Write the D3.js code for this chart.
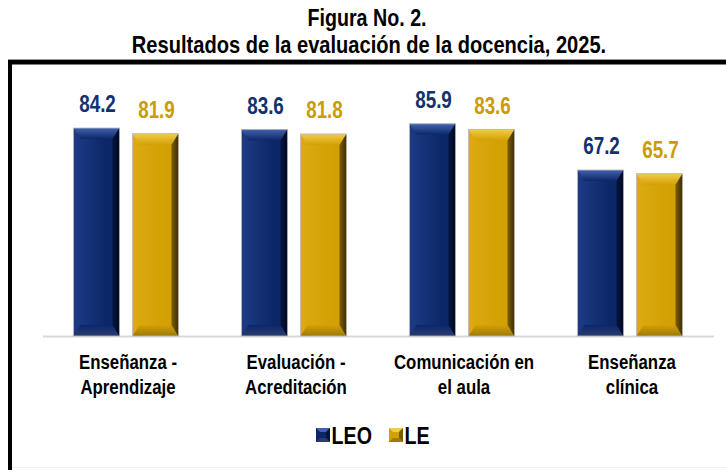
<!DOCTYPE html>
<html>
<head>
<meta charset="utf-8">
<script src="https://cdn.jsdelivr.net/npm/d3@7"></script>
<style>
  html, body { margin: 0; padding: 0; background: #fff; }
  svg { display: block; }
  text { font-family: "Liberation Sans", Arial, sans-serif; font-weight: bold; }
</style>
</head>
<body>
<svg id="chart" width="726" height="470"></svg>
<script>
const categories = [["Enseñanza -", "Aprendizaje"], ["Evaluación -", "Acreditación"], ["Comunicación en", "el aula"], ["Enseñanza", "clínica"]];
const seriesNames = ["LEO", "LE"];
const leoValues = [84.2, 83.6, 85.9, 67.2];
const leValues = [81.9, 81.8, 83.6, 65.7];
const titleLines = ["Figura No. 2.", "Resultados de la evaluación de la docencia, 2025."];

const W = 726, H = 470;
const NARROW = 0.82;
const svg = d3.select("#chart");
const defs = svg.append("defs");

const palette = {
  LEO: { base: "#0c2768", light: "#1d3c86", dark: "#020a22", label: "#13306f", top: "#4262ae", bottom: "#2a3d70" },
  LE:  { base: "#d3a004", light: "#dcab10", dark: "#3d2e00", label: "#c99c06", top: "#f2cb4a", bottom: "#9e7a08" }
};

seriesNames.forEach(s => {
  const p = palette[s];
  const g = defs.append("linearGradient").attr("id", "grad-" + s).attr("x1", 0).attr("x2", 1).attr("y1", 0).attr("y2", 0);
  g.append("stop").attr("offset", "0%").attr("stop-color", p.light);
  g.append("stop").attr("offset", "70%").attr("stop-color", p.base);
  g.append("stop").attr("offset", "84%").attr("stop-color", p.base);
  g.append("stop").attr("offset", "100%").attr("stop-color", p.dark);
  const t = defs.append("linearGradient").attr("id", "top-" + s).attr("x1", 0).attr("x2", 0).attr("y1", 0).attr("y2", 1);
  t.append("stop").attr("offset", "0%").attr("stop-color", p.top);
  t.append("stop").attr("offset", "100%").attr("stop-color", p.base);
  const b = defs.append("linearGradient").attr("id", "bot-" + s).attr("x1", 0).attr("x2", 0).attr("y1", 0).attr("y2", 1);
  b.append("stop").attr("offset", "0%").attr("stop-color", p.base);
  b.append("stop").attr("offset", "100%").attr("stop-color", p.bottom);
});

function narrowText(parent, x, y, size, fill, anchor, str) {
  return parent.append("text")
    .attr("transform", `translate(${x},${y}) scale(${NARROW},1)`)
    .attr("text-anchor", anchor).attr("font-size", size).attr("fill", fill).text(str);
}

// Frame
svg.append("rect").attr("x", 8).attr("y", 59).attr("width", W - 8).attr("height", 1).attr("fill", "#9a9a9a");
svg.append("rect").attr("x", 8).attr("y", 60).attr("width", W - 8).attr("height", 4.5).attr("fill", "#000");
svg.append("rect").attr("x", 8).attr("y", 60).attr("width", 4).attr("height", H - 60).attr("fill", "#000");
svg.append("rect").attr("x", 12).attr("y", 467).attr("width", W - 12).attr("height", 1).attr("fill", "#f0f0f0");

// Titles
narrowText(svg, 367, 26, 24, "#000", "middle", titleLines[0]);
narrowText(svg, 369, 53, 24.5, "#000", "middle", titleLines[1]);

// Scales
const x0 = d3.scaleBand().domain(d3.range(categories.length)).range([42, 714]).paddingInner(0).paddingOuter(0);
const x1 = d3.scaleBand().domain(seriesNames).range([0, x0.bandwidth()]).paddingInner(0.22).paddingOuter(0.534);
const y = d3.scaleLinear().domain([0, 100]).range([336, 89]);

// Axis line
svg.append("line").attr("x1", 43).attr("x2", 714).attr("y1", 336.5).attr("y2", 336.5)
  .attr("stroke", "#d9d9d9").attr("stroke-width", 2);

const data = [];
categories.forEach((c, i) => {
  data.push({ i, s: "LEO", v: leoValues[i] });
  data.push({ i, s: "LE", v: leValues[i] });
});

const bars = svg.append("g").selectAll("g.bar").data(data).join("g").attr("class", "bar");
bars.each(function(d) {
  const g = d3.select(this);
  const bx = x0(d.i) + x1(d.s), bw = x1.bandwidth();
  const by = y(d.v), bh = y(0) - y(d.v);
  const bt = 11, bs = 7;
  g.append("rect").attr("x", bx).attr("y", by).attr("width", bw).attr("height", bh)
    .attr("fill", `url(#grad-${d.s})`);
  g.append("path").attr("d", `M${bx},${by}L${bx + bw},${by}L${bx + bw - bs},${by + bt}L${bx + bs},${by + bt}Z`)
    .attr("fill", `url(#top-${d.s})`);
  g.append("path").attr("d", `M${bx},${by + bh}L${bx + bw},${by + bh}L${bx + bw - bs},${by + bh - bt}L${bx + bs},${by + bh - bt}Z`)
    .attr("fill", `url(#bot-${d.s})`);
  g.append("path").attr("d", `M${bx + bw},${by}L${bx + bw},${by + bh}L${bx + bw - bs},${by + bh - bt}L${bx + bw - bs},${by + bt}Z`)
    .attr("fill", palette[d.s].dark).attr("opacity", 0.55);
  g.append("rect").attr("x", bx).attr("y", by).attr("width", bw).attr("height", bh)
    .attr("fill", "none").attr("stroke", "#b8b8c0").attr("stroke-width", 0.8);
  narrowText(g, bx + bw / 2 + 1, by - 16, 23, palette[d.s].label, "middle", d.v.toFixed(1));
});

// Category labels
const cg = svg.append("g");
categories.forEach((lines, i) => {
  lines.forEach((ln, j) => {
    narrowText(cg, x0(i) + x0.bandwidth() / 2 + 2, 369 + j * 25, 20.5, "#000", "middle", ln);
  });
});

// Legend
const legendX = [316, 389];
const lg = svg.append("g").selectAll("g").data(seriesNames).join("g")
  .attr("transform", (d, i) => `translate(${legendX[i]},428)`);
lg.each(function(s) {
  const g = d3.select(this);
  const sz = 14, b = 4;
  g.append("rect").attr("width", sz).attr("height", sz).attr("fill", palette[s].base);
  g.append("path").attr("d", `M0,0L${sz},0L${sz - b},${b}L${b},${b}Z`).attr("fill", palette[s].top);
  g.append("path").attr("d", `M${sz},0L${sz},${sz}L${sz - b},${sz - b}L${sz - b},${b}Z`).attr("fill", palette[s].dark).attr("opacity", 0.6);
  g.append("path").attr("d", `M0,${sz}L${sz},${sz}L${sz - b},${sz - b}L${b},${sz - b}Z`).attr("fill", palette[s].bottom);
  narrowText(g, sz + 1.5, sz + 2, 24, "#000", "start", s);
});
</script>
</body>
</html>
